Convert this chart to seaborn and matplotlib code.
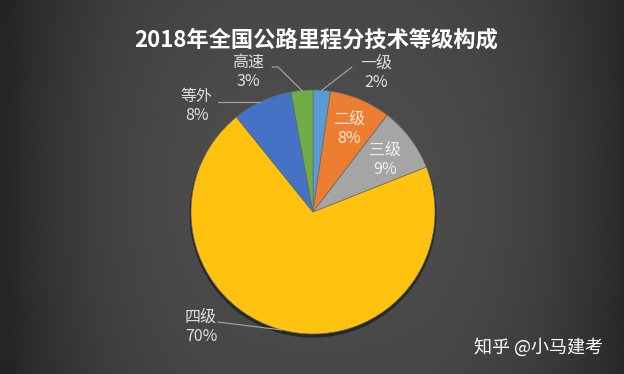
import numpy as np
import seaborn as sns
import matplotlib.pyplot as plt
from matplotlib.patches import Circle

# data (share of road length by technical grade, %)
grades = ['一级', '二级', '三级', '四级', '等外', '高速']
shares = [2.3, 8.1, 8.6, 70.2, 7.9, 2.9]
pct_labels = ['2%', '8%', '9%', '70%', '8%', '3%']
colors = sns.color_palette(['#5B9BD5', '#ED7D31', '#A5A5A5', '#FFC20E', '#4472C4', '#70AD47'])

title = '2018年全国公路里程分技术等级构成'
watermark = '知乎 @小马建考'

sns.set_theme(style='dark')
plt.rcParams['font.family'] = ['Noto Sans CJK SC', 'DejaVu Sans']

fig = plt.figure(figsize=(6.24, 3.74), dpi=100)

# dark gradient background
bg = fig.add_axes([0, 0, 1, 1])
xx, yy = np.meshgrid(np.linspace(0, 624, 624), np.linspace(0, 374, 374))
u = np.abs(xx - 320) / 310
v = np.abs(yy - 190) / 190
val = (40 + 38 * (1 - np.clip(u, 0, 1) ** 3)) * (1 - 0.08 * v ** 2)
img = np.dstack([val, val * 0.99, val * 0.99]) / 255
bg.imshow(img, aspect='auto', extent=[0, 1, 0, 1])
bg.axis('off')

# pie axes: centre at (313, 212) px, radius 122 px, limits +-1.25
half = 122 * 1.25
ax = fig.add_axes([(313 - half) / 624, (374 - 212 - half) / 374, 2 * half / 624, 2 * half / 374])
ax.patch.set_alpha(0)

ax.add_patch(Circle((0.0, -0.018), 1.012, color='black', alpha=0.45, zorder=0, lw=0))
wedges, _ = ax.pie(shares, colors=colors, startangle=90, counterclock=False, radius=1,
                   wedgeprops=dict(edgecolor='#6a6a6a', linewidth=0.5))
ax.set_xlim(-1.25, 1.25)
ax.set_ylim(-1.25, 1.25)
ax.axis('off')

# label layout: centre of label block, leader line start (None = inside slice)
label_pos = {
    '一级': ((0.516, 1.139), [(0.32, 1.189)]),
    '二级': ((0.295, 0.680), None),
    '三级': ((0.590, 0.426), None),
    '四级': ((-0.918, -0.943), [(-0.779, -0.902)]),
    '等外': ((-0.951, 0.869), [(-0.779, 0.902)]),
    '高速': ((-0.533, 1.148), [(-0.336, 1.189), (-0.287, 1.189)]),
}

line_gap = 0.078
for w, name, pct in zip(wedges, grades, pct_labels):
    (lx, ly), leader = label_pos[name]
    ax.text(lx, ly + line_gap, name, ha='center', va='center', fontsize=11.5,
            fontweight='light', color='white', alpha=0.82)
    ax.text(lx, ly - line_gap, pct, ha='center', va='center', fontsize=11.5,
            fontweight='light', color='white', alpha=0.82)
    if leader is not None:
        mid = np.deg2rad((w.theta1 + w.theta2) / 2)
        pts = leader + [(np.cos(mid), np.sin(mid))]
        if name == '等外':
            # horizontal leader to the slice edge
            pts = leader + [(-np.sqrt(1 - leader[0][1] ** 2), leader[0][1])]
        ax.plot([p[0] for p in pts], [p[1] for p in pts], color='#a8a8a8', lw=0.8)

fig.text(316 / 624, 1 - 40 / 374, title, ha='center', va='center', fontsize=16,
         fontweight='bold', color='white')
fig.text(538 / 624, 1 - 347 / 374, watermark, ha='center', va='center', fontsize=13,
         color='white')

fig.savefig('out.png', dpi=100)
